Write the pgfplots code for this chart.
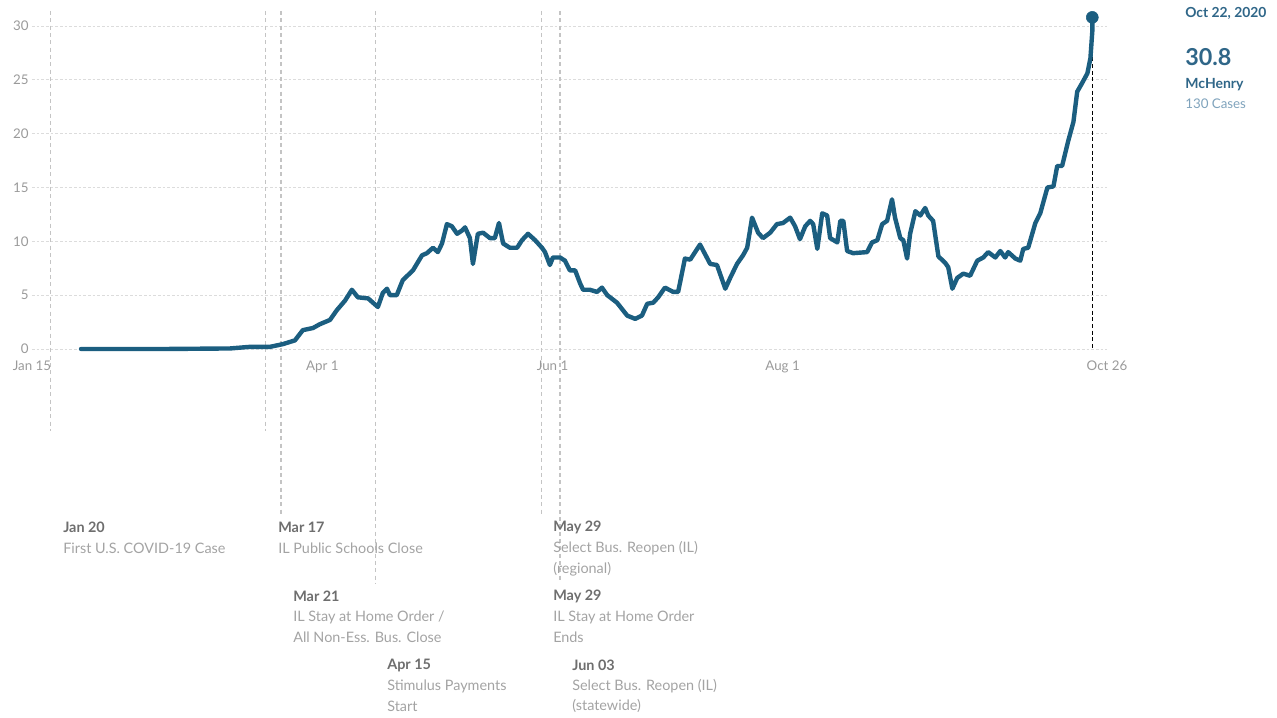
\documentclass[border=0pt]{standalone}
\usepackage{pgfplots}
\pgfplotsset{compat=1.18}
\usepackage{fontspec}
\setmainfont{Lato}
\definecolor{linec}{HTML}{1B5E80}
\definecolor{gridc}{HTML}{DCDCDC}
\definecolor{evline}{HTML}{C4C4C4}
\definecolor{tickc}{HTML}{9A9A9A}
\definecolor{evdate}{HTML}{6E6E6E}
\definecolor{evtext}{HTML}{A3A3A3}
\definecolor{hdr}{HTML}{2F6688}
\definecolor{sub}{HTML}{7FA3BC}
\begin{document}
\begin{tikzpicture}
\path[use as bounding box] (0,0) rectangle (957.75pt,537.75pt);
\begin{axis}[
  at={(24pt,276pt)}, anchor=south west, scale only axis,
  width=806.25pt, height=242.25pt,
  xmin=15, xmax=300, ymin=0, ymax=30, clip=false,
  axis line style={draw=none}, major tick length=0pt,
  ytick={0,5,...,30},
  xtick={15,92,153,214,300},
  xticklabels={Jan 15,Apr 1,Jun 1,Aug 1,Oct 26},
  ymajorgrids, grid style={gridc, dash pattern=on 2pt off 1.5pt, line width=0.6pt},
  tick label style={font=\fontsize{10}{11}\selectfont, text=tickc},
  /pgf/number format/assume math mode=true,
  xticklabel style={yshift=-5.5pt},
  yticklabel style={xshift=1pt},
]
% event lines
\addplot[evline, line width=0.9pt, dash pattern=on 3pt off 2.5pt] coordinates {(20,31.4) (20,-7.6)};
\addplot[evline, line width=0.9pt, dash pattern=on 3pt off 2.5pt] coordinates {(77,31.4) (77,-7.6)};
\addplot[evline, line width=0.9pt, dash pattern=on 3pt off 2.5pt] coordinates {(81,31.4) (81,-15.5)};
\addplot[evline, line width=0.9pt, dash pattern=on 3pt off 2.5pt] coordinates {(106,31.4) (106,-21.8)};
\addplot[evline, line width=0.9pt, dash pattern=on 3pt off 2.5pt] coordinates {(150,31.4) (150,-15.5)};
\addplot[evline, line width=0.9pt, dash pattern=on 3pt off 2.5pt] coordinates {(155,31.4) (155,-21.5)};
% last date marker line
\addplot[black, line width=1pt, dash pattern=on 3pt off 2pt] coordinates {(296.1,30.8) (296.1,0)};
% main series
\addplot[linec, line width=3.3pt, line join=round, line cap=round] coordinates {
(28,0) (50,0) (67.5,0.05) (72.8,0.2) (77,0.2) (78.1,0.2) (81.5,0.45) (84.7,0.8)
(86.8,1.75) (89.5,1.95) (91.3,2.3) (94,2.7) (95.8,3.6) (98,4.5) (99.8,5.5)
(101.4,4.8) (104.1,4.7) (105.4,4.3) (106.7,3.9) (108,5.2) (109.1,5.6) (109.9,5.0)
(111.7,5.0) (113.3,6.4) (116,7.3) (118.4,8.7) (119.7,8.9) (121.3,9.4) (122.6,9.0)
(123.7,9.8) (125,11.6) (126.3,11.4) (127.7,10.7) (129,11.0) (129.8,11.3) (131.1,10.3)
(131.9,7.9) (133.2,10.7) (134.6,10.8) (136.4,10.3) (137.7,10.3) (138.8,11.7) (139.9,9.8)
(141.7,9.4) (143.6,9.4) (144.9,10.1) (146.5,10.7) (148.4,10.1) (150.2,9.4) (151,9.0)
(152.3,7.8) (153.1,8.5) (155,8.5) (156.3,8.2) (157.6,7.3) (159,7.3) (160.3,6.1)
(161.1,5.5) (162.9,5.5) (164.8,5.3) (166.1,5.7) (167.5,5.0) (170.1,4.3) (172.8,3.1)
(174.9,2.8) (176.7,3.1) (178.1,4.2) (179.7,4.3) (181,4.8) (182.8,5.7) (185,5.3)
(186.3,5.3) (188.1,8.4) (189.5,8.3) (192.1,9.7) (194.8,7.9) (196.6,7.8) (198.8,5.6)
(200.1,6.6) (201.9,7.9) (203.5,8.7) (204.6,9.4) (205.9,12.2) (207.5,10.8) (208.8,10.3)
(210.7,10.8) (212.5,11.6) (214.1,11.7) (216,12.2) (217.3,11.4) (218.6,10.2) (220,11.4)
(221.3,11.9) (222.1,11.6) (223.2,9.3) (224.5,12.6) (225.8,12.4) (226.6,10.3) (228.5,9.9)
(229.3,11.9) (230.1,11.9) (231.1,9.1) (232.7,8.9) (236.4,9.0) (237.7,9.9) (239.1,10.1)
(240.4,11.6) (241.7,11.9) (243,13.9) (243.8,12.2) (245.2,10.3) (246,10.1) (247,8.4)
(247.8,10.7) (249.2,12.8) (250.5,12.4) (251.8,13.1) (252.6,12.4) (253.9,11.9) (255.3,8.6)
(257.1,8.0) (257.9,7.6) (259,5.6) (260.3,6.6) (261.9,7.0) (263.7,6.8) (265.6,8.2)
(267.2,8.5) (268.5,9.0) (270.4,8.5) (271.7,9.1) (273,8.5) (273.8,9.0) (275.7,8.4)
(277,8.2) (277.8,9.3) (279.1,9.4) (281,11.7) (282.3,12.6) (284.2,15.0) (285.8,15.1)
(286.8,17.0) (288.1,17.0) (289.7,19.3) (291.1,21.1) (292.1,23.9) (293.4,24.7)
(294.8,25.6) (295.6,27.0) (296.1,29.5) (296.1,30.8)
};
\addplot[only marks, mark=*, mark size=4.5pt, linec] coordinates {(296.1,30.8)};
\end{axis}
\begin{scope}[x=0.75pt,y=-0.75pt,yshift=537.75pt,
  every node/.style={anchor=west, inner sep=0pt},
  dt/.style={text=evdate, font=\fontsize{10.8}{12}\selectfont\bfseries},
  ds/.style={text=evtext, font=\fontsize{10.8}{12}\selectfont}]
\node[dt] at (63,527) {Jan 20};
\node[ds] at (63,548) {First U.S. COVID-19 Case};
\node[dt] at (278,527) {Mar 17};
\node[ds] at (278,548) {IL Public Schools Close};
\node[dt] at (293,596) {Mar 21};
\node[ds] at (293,617) {IL Stay at Home Order /};
\node[ds] at (293,637) {All Non-Ess. Bus. Close};
\node[dt] at (387,665) {Apr 15};
\node[ds] at (387,686) {Stimulus Payments};
\node[ds] at (387,706) {Start};
\node[dt] at (553,527) {May 29};
\node[ds] at (553,548) {Select Bus. Reopen (IL)};
\node[ds] at (553,569) {(regional)};
\node[dt] at (553,596) {May 29};
\node[ds] at (553,617) {IL Stay at Home Order};
\node[ds] at (553,637) {Ends};
\node[dt] at (572,665) {Jun 03};
\node[ds] at (572,686) {Select Bus. Reopen (IL)};
\node[ds] at (572,706) {(statewide)};
% right-hand annotation
\node[text=hdr, font=\fontsize{10.4}{12}\selectfont\bfseries] at (1185,13) {Oct 22, 2020};
\node[text=hdr, font=\fontsize{17.5}{20}\selectfont\bfseries] at (1185,57) {30.8};
\node[text=hdr, font=\fontsize{10.5}{12}\selectfont\bfseries] at (1185,85) {McHenry};
\node[text=sub, font=\fontsize{10}{12}\selectfont] at (1185,104) {130 Cases};
\end{scope}
\end{tikzpicture}
\end{document}
